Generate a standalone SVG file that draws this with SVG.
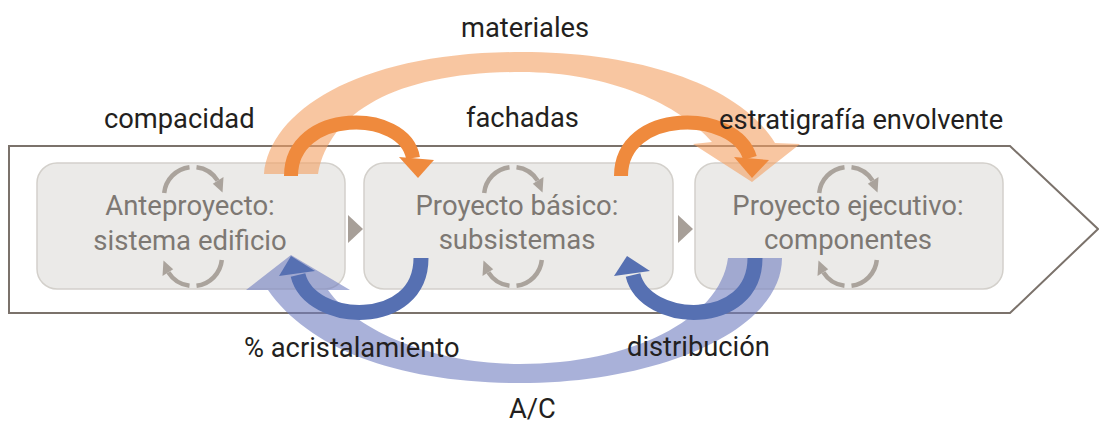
<svg xmlns="http://www.w3.org/2000/svg" width="1099" height="423" viewBox="0 0 1099 423">
<style>
.box{fill:#ebeae8;stroke:#d3d0cb;stroke-width:1.5}
.bt{font-family:Roboto,"Liberation Sans",sans-serif;font-size:27.5px;fill:#7d7873;text-anchor:middle}
.lbl{font-family:Roboto,"Liberation Sans",sans-serif;font-size:27.3px;fill:#231f20}
.cyc{fill:none;stroke:#aaa39c;stroke-width:4.5}
.cyh{fill:#aaa39c}
.dor{fill:none;stroke:#ef8a3d;stroke-width:14}
.dbl{fill:none;stroke:#5670b2;stroke-width:15}
</style>
<defs>
<g id="cyc">
<path class="cyc" d="M -28.8 -3.0 A 29 29 0 0 1 -3.5 -28.8"/>
<path class="cyc" d="M 3.5 -28.8 A 29 29 0 0 1 24.6 -15.4"/>
<polygon class="cyh" points="30.5,-19.0 19.8,-12.2 29.5,-3.5"/>
</g>
</defs>
<polygon points="9,146 1010,146 1098,229 1010,313 9,313" fill="#fff" stroke="#7b726b" stroke-width="2"/>
<polygon points="348,215 363,229 348,243" fill="#a79f98"/>
<polygon points="678,215 693,229 678,243" fill="#a79f98"/>
<g id="node-anteproyecto">
<rect class="box" x="37" y="163" width="308" height="126" rx="20"/>
<use href="#cyc" transform="translate(193,196)"/>
<use href="#cyc" transform="translate(193,257) rotate(180)"/>
<text class="bt" x="190" y="215">Anteproyecto:</text>
<text class="bt" x="190" y="250">sistema edificio</text>
</g>
<g id="node-basico">
<rect class="box" x="364" y="163" width="309" height="126" rx="20"/>
<use href="#cyc" transform="translate(513,196)"/>
<use href="#cyc" transform="translate(513,257) rotate(180)"/>
<text class="bt" x="517" y="215">Proyecto básico:</text>
<text class="bt" x="517" y="249">subsistemas</text>
</g>
<g id="node-ejecutivo">
<rect class="box" x="695" y="163" width="308" height="126" rx="20"/>
<use href="#cyc" transform="translate(848,196)"/>
<use href="#cyc" transform="translate(848,257) rotate(180)"/>
<text class="bt" x="848" y="215">Proyecto ejecutivo:</text>
<text class="bt" x="848" y="249">componentes</text>
</g>
<g id="connectors">
<path d="M 264 174 C 270 110 360 52 521 52 C 640 52 740 85 775 143 L 800 144 L 752 182 L 693 144 L 712 142 C 680 105 610 72 521 72 C 400 72 330 110 318 174 Z" fill="#f4a062" opacity="0.6"/>
<path class="dor" d="M 291 176 C 291 108 405 108 413 158"/>
<polygon points="399,157 434,160 418,178" fill="#ef8a3d"/>
<path class="dor" d="M 621 176 C 621 108 735 108 750 158"/>
<polygon points="734,157 769,160 752,178" fill="#ef8a3d"/>
<path d="M 782 258 C 782 330 660 383 520 383 C 400 383 310 350 268 290 L 246 290 L 291 255 L 350 290 L 328 290 C 360 335 440 364 520 364 C 630 364 720 320 728 258 Z" fill="#6f7dc0" opacity="0.6"/>
<path class="dbl" d="M 421 258 C 421 330 310 325 298 275"/>
<polygon points="279,276 315,271 291,256" fill="#5670b2"/>
<path class="dbl" d="M 755 258 C 755 330 645 325 633 275"/>
<polygon points="614,276 650,271 627,256" fill="#5670b2"/>
</g>
<g id="labels">
<text class="lbl" x="461" y="37">materiales</text>
<text class="lbl" x="104" y="128">compacidad</text>
<text class="lbl" x="466" y="127">fachadas</text>
<text class="lbl" x="719" y="129">estratigrafía envolvente</text>
<text class="lbl" x="244" y="357">% acristalamiento</text>
<text class="lbl" x="627" y="356">distribución</text>
<text class="lbl" x="509" y="418">A/C</text>
</g>
</svg>
